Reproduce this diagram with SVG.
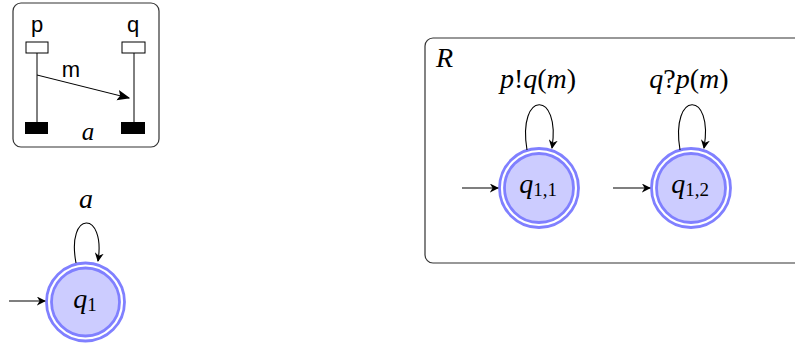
<svg xmlns="http://www.w3.org/2000/svg" width="795" height="345" viewBox="0 0 795 345">
<style>
.box{fill:#fff;stroke:#333;stroke-width:1.2}
.outer{fill:none;stroke:#8080ff;stroke-width:2.8}
.inner{fill:#ccccff;stroke:#8080ff;stroke-width:2.8}
.edge{fill:none;stroke:#000;stroke-width:1.1;marker-end:url(#ah)}
.sans{font-family:"Liberation Sans",Arial,sans-serif;font-size:22px;fill:#000}
.math{font-family:"Liberation Serif","Times New Roman",serif;font-size:28px;fill:#000}
.it{font-style:italic}
.sub{font-size:19px}
.small{font-size:25px}
</style>
<defs>
<marker id="ah" viewBox="0 0 10 10" refX="9" refY="5" markerWidth="9" markerHeight="9" markerUnits="userSpaceOnUse" orient="auto">
<path d="M0,0 L10,5 L0,10 L3,5 Z" fill="#000"/>
</marker>
<marker id="ah2" viewBox="0 0 10 10" refX="9" refY="5" markerWidth="13" markerHeight="13" markerUnits="userSpaceOnUse" orient="auto">
<path d="M0,1 L10,5 L0,9 L2,5 Z" fill="#000"/>
</marker>
</defs>

<g id="msc">
<rect class="box" x="13" y="3" width="146" height="144" rx="8"/>
<text class="sans" x="37" y="32" text-anchor="middle">p</text>
<text class="sans" x="133" y="32" text-anchor="middle">q</text>
<rect x="26" y="42" width="22" height="11" fill="#fff" stroke="#000" stroke-width="1"/>
<rect x="122" y="42" width="23" height="11" fill="#fff" stroke="#000" stroke-width="1"/>
<line x1="37" y1="53" x2="37" y2="122" stroke="#000" stroke-width="1"/>
<line x1="134" y1="53" x2="134" y2="122" stroke="#000" stroke-width="1"/>
<rect x="25" y="122" width="23" height="12" fill="#000"/>
<rect x="121" y="122" width="24" height="12" fill="#000"/>
<line x1="37" y1="75" x2="129" y2="98" stroke="#000" stroke-width="1" marker-end="url(#ah2)"/>
<text class="sans" x="71" y="77" text-anchor="middle">m</text>
<text class="math it small" x="88" y="140" text-anchor="middle">a</text>
</g>

<g id="q1">
<circle class="outer" cx="85.5" cy="302" r="39"/>
<circle class="inner" cx="85.5" cy="302" r="34"/>
<text class="math" x="85" y="308" text-anchor="middle"><tspan class="it">q</tspan><tspan class="sub" dy="3">1</tspan></text>
</g>

<g id="R">
<rect class="box" x="425" y="38" width="390" height="225" rx="8"/>
<text class="math it" x="436" y="67">R</text>
</g>

<g id="q11">
<circle class="outer" cx="539" cy="188" r="39.5"/>
<circle class="inner" cx="539" cy="188" r="34.5"/>
<text class="math" x="538" y="193" text-anchor="middle"><tspan class="it">q</tspan><tspan class="sub" dy="3">1,1</tspan></text>
</g>

<g id="q12">
<circle class="outer" cx="691" cy="188" r="39.5"/>
<circle class="inner" cx="691" cy="188" r="34.5"/>
<text class="math" x="690" y="193" text-anchor="middle"><tspan class="it">q</tspan><tspan class="sub" dy="3">1,2</tspan></text>
</g>

<g id="connectors">
<line class="edge" x1="9" y1="301" x2="45" y2="301"/>
<path class="edge" d="M76,263 C66,210 106,210 98,261"/>
<text class="math it" x="86" y="208" text-anchor="middle">a</text>

<line class="edge" x1="462" y1="188" x2="498" y2="188"/>
<path class="edge" d="M527,150 C517,90 561,90 552,148"/>
<text class="math" x="538" y="88" text-anchor="middle"><tspan class="it">p</tspan>!<tspan class="it">q</tspan>(<tspan class="it">m</tspan>)</text>

<line class="edge" x1="613" y1="188" x2="650" y2="188"/>
<path class="edge" d="M680,150 C670,90 714,90 704,148"/>
<text class="math" x="689" y="88" text-anchor="middle"><tspan class="it">q</tspan>?<tspan class="it">p</tspan>(<tspan class="it">m</tspan>)</text>
</g>
</svg>
